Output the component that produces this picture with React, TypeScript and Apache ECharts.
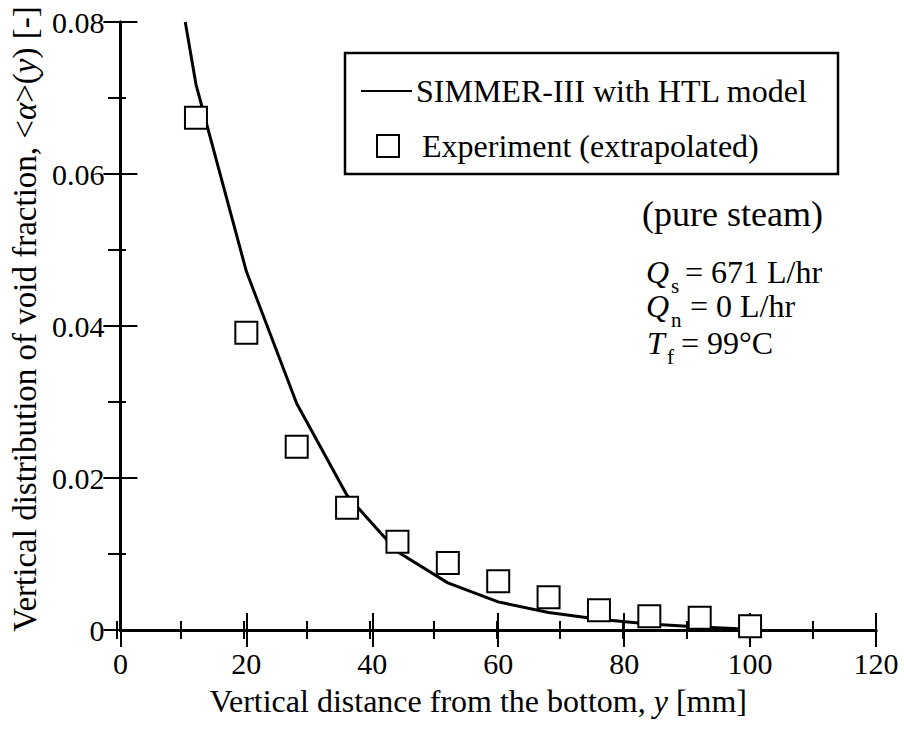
import React, { useEffect, useRef } from "react";
import * as echarts from "echarts";

// Simulation (SIMMER-III with HTL model): [y (mm), <alpha>(y)]
const simX = [10.3, 12, 20, 28, 36, 44, 52, 60, 68, 76, 84, 92, 100];
const simY = [0.08, 0.0718, 0.0472, 0.0298, 0.0177, 0.0103, 0.0062, 0.0037, 0.0023, 0.0014, 0.0008, 0.0004, 0.0001];

// Experiment (extrapolated)
const expX = [12, 20, 28, 36, 44, 52, 60, 68, 76, 84, 92, 100];
const expY = [0.0674, 0.0391, 0.0241, 0.0161, 0.0116, 0.0088, 0.0064, 0.0043, 0.0026, 0.0018, 0.0016, 0.0005];

const seriesNames = ["SIMMER-III with HTL model", "Experiment (extrapolated)"];
const xTitle = "Vertical distance from the bottom, ";
const FONT = '"Liberation Serif", "Times New Roman", "DejaVu Serif", serif';

export default function App() {
  const ref = useRef<HTMLDivElement>(null);
  useEffect(() => {
    if (!ref.current) return;
    const chart = echarts.init(ref.current, undefined, { renderer: "svg" });
    const grid = { left: 117, right: 28, top: 22, bottom: 107, containLabel: false };
    const axisLine = { show: true, lineStyle: { color: "#000", width: 3 } };
    const majorTick = { show: true, inside: true, length: 17, lineStyle: { color: "#000", width: 2 } };
    const minorTickAx = { show: true, inside: true, length: 9, lineStyle: { color: "#000", width: 2 } };
    const labelStyle = { color: "#000", fontFamily: FONT, fontSize: 30 };
    const richX = {
      n: { fontFamily: FONT, fontSize: 32, color: "#000" },
      i: { fontFamily: FONT, fontSize: 32, color: "#000", fontStyle: "italic" },
    };
    const richY = {
      n: { fontFamily: FONT, fontSize: 33, color: "#000" },
      i: { fontFamily: FONT, fontSize: 33, color: "#000", fontStyle: "italic" },
    };
    const txt = (text: string, x: number, y: number, size: number, italic = false) => ({
      type: "text",
      x,
      y,
      z: 20,
      style: { text, fill: "#000", font: `${italic ? "italic " : ""}${size}px ${FONT}`, align: "left", verticalAlign: "middle" },
    });
    const xa = (gridIndex: number, position: string, interval: number, tick: any, label: any) => ({
      type: "value", gridIndex, min: 0, max: 120, interval, position,
      axisLine: gridIndex === 0 ? axisLine : { show: false },
      axisTick: tick, splitLine: { show: false }, axisLabel: label,
    });
    const ya = (gridIndex: number, position: string, interval: number, tick: any, label: any) => ({
      type: "value", gridIndex, min: 0, max: 0.08, interval, position,
      axisLine: gridIndex === 0 ? axisLine : { show: false },
      axisTick: tick, splitLine: { show: false }, axisLabel: label,
    });
    chart.setOption({
      animation: false,
      backgroundColor: "#fff",
      grid: [grid, { ...grid }],
      xAxis: [
        {
          ...xa(0, "bottom", 20, majorTick, { ...labelStyle, margin: 18 }),
          name: `{n|${xTitle}}{i|y}{n| [mm]}`,
          nameLocation: "middle", nameGap: 55,
          nameTextStyle: { rich: richX, padding: [0, 40, 0, 0] },
        },
        xa(0, "top", 20, majorTick, { show: false }),
        xa(1, "bottom", 10, minorTickAx, { show: false }),
        xa(1, "top", 10, minorTickAx, { show: false }),
      ],
      yAxis: [
        {
          ...ya(0, "left", 0.02, majorTick, { ...labelStyle, margin: 16, formatter: (v: number) => (v === 0 ? "0" : v.toFixed(2)) }),
          name: "{n|Vertical distribution of void fraction, <}{i|α}{n|>(}{i|y}{n|) [-]}",
          nameLocation: "middle", nameGap: 71,
          nameTextStyle: { rich: richY, padding: [0, 0, 0, 14] },
        },
        ya(0, "right", 0.02, majorTick, { show: false }),
        ya(1, "left", 0.01, minorTickAx, { show: false }),
        ya(1, "right", 0.01, minorTickAx, { show: false }),
      ],
      graphic: [
        { type: "rect", z: 20, shape: { x: 345, y: 53, width: 493, height: 121 }, style: { fill: "#fff", stroke: "#000", lineWidth: 2.5 } },
        { type: "line", z: 21, shape: { x1: 361, y1: 91, x2: 412, y2: 91 }, style: { stroke: "#000", lineWidth: 2 } },
        { type: "rect", z: 21, shape: { x: 377, y: 135, width: 22, height: 22 }, style: { fill: "#fff", stroke: "#000", lineWidth: 2 } },
        { ...txt(seriesNames[0], 416, 91, 32), z: 21 },
        { ...txt(seriesNames[1], 422, 146, 32), z: 21 },
        txt("(pure steam)", 642, 214, 36),
        txt("Q", 646, 272, 32, true),
        txt("s", 671, 286, 21),
        txt("= 671 L/hr", 685, 272, 32),
        txt("Q", 646, 306, 32, true),
        txt("n", 671, 320, 21),
        txt("= 0 L/hr", 690, 306, 32),
        txt("T", 647, 343, 32, true),
        txt("f", 667, 357, 21),
        txt("= 99°C", 681, 343, 32),
      ],
      series: [
        {
          name: seriesNames[0],
          type: "line",
          xAxisIndex: 0,
          yAxisIndex: 0,
          data: simX.map((x, i) => [x, simY[i]]),
          showSymbol: false,
          symbol: "none",
          lineStyle: { color: "#000", width: 3 },
          itemStyle: { color: "#000" },
          z: 2,
          clip: true,
        },
        {
          name: seriesNames[1],
          type: "scatter",
          xAxisIndex: 0,
          yAxisIndex: 0,
          data: expX.map((x, i) => [x, expY[i]]),
          symbol: "rect",
          symbolSize: 22,
          itemStyle: { color: "#fff", borderColor: "#000", borderWidth: 2, opacity: 1 },
          z: 3,
        },
      ],
    });
    return () => chart.dispose();
  }, []);
  return <div ref={ref} style={{ position: "fixed", left: 0, top: 0, width: 904, height: 737 }} />;
}
